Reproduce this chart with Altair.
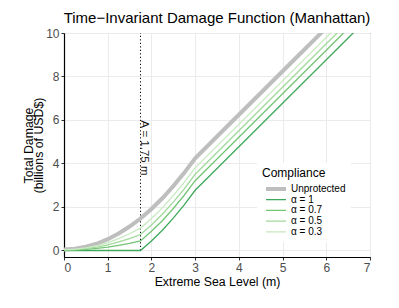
import altair as alt
import pandas as pd

# ---- data ----
x_vals = [0, 0.25, 0.5, 0.75, 1.0, 1.25, 1.5, 1.75, 2.0, 2.25, 2.5, 2.75, 3.0,
          3.5, 4.0, 4.5, 5.0, 5.5, 6.0, 6.5, 7.0]
unprotected = [0.05, 0.08, 0.17, 0.31, 0.52, 0.78, 1.10, 1.47, 1.91, 2.40, 2.96, 3.57, 4.24,
               5.24, 6.24, 7.24, 8.24, 9.24, 10.24, 11.24, 12.24]
alpha_1 = [0, 0, 0, 0, 0, 0, 0, 0, 0.44, 0.93, 1.49, 2.10, 2.77,
           3.77, 4.77, 5.77, 6.77, 7.77, 8.77, 9.77, 10.77]
alpha_07 = [0.015, 0.024, 0.051, 0.093, 0.156, 0.234, 0.33, 0.441, 0.88, 1.37, 1.93, 2.54, 3.21,
            4.21, 5.21, 6.21, 7.21, 8.21, 9.21, 10.21, 11.21]
alpha_05 = [0.025, 0.04, 0.085, 0.155, 0.26, 0.39, 0.55, 0.735, 1.175, 1.665, 2.225, 2.835, 3.505,
            4.505, 5.505, 6.505, 7.505, 8.505, 9.505, 10.505, 11.505]
alpha_03 = [0.035, 0.056, 0.119, 0.217, 0.364, 0.546, 0.77, 1.029, 1.469, 1.959, 2.519, 3.129, 3.799,
            4.799, 5.799, 6.799, 7.799, 8.799, 9.799, 10.799, 11.799]

series_names = ["Unprotected", "α = 1", "α = 0.7", "α = 0.5", "α = 0.3"]
series_values = [unprotected, alpha_1, alpha_07, alpha_05, alpha_03]
colors = ["#bebebe", "#3fa95b", "#74c476", "#a1d99b", "#c7e9c0"]
widths = [4, 1.3, 1.3, 1.3, 1.3]

threshold_x = [1.75]
threshold_label = ["A = 1.75 m"]

x_ticks = [i * 0.5 for i in range(15)]
y_ticks = list(range(11))

rows = []
for k, (name, vals) in enumerate(zip(series_names, series_values)):
    for xv, yv in zip(x_vals, vals):
        rows.append({"x": xv, "y": yv, "series": name, "k": k})
df = pd.DataFrame(rows)

rule_df = pd.DataFrame({"x": threshold_x, "y": [0], "y2": [10]})
text_df = pd.DataFrame({"x": [1.84], "y": [4.72], "label": threshold_label})

xscale = alt.Scale(domain=[0, 7], nice=False, zero=False)
yscale = alt.Scale(domain=[-0.3, 10], nice=False, zero=False)

xaxis = alt.Axis(values=x_ticks, labelExpr="datum.value % 1 == 0 ? datum.label : ''",
                 title="Extreme Sea Level (m)")
yaxis = alt.Axis(values=y_ticks, labelExpr="datum.value % 2 == 0 ? datum.label : ''",
                 title=["Total Damage", "(billions of USD$)"])

lines = alt.Chart(df).mark_line(clip=True).encode(
    x=alt.X("x:Q", scale=xscale, axis=xaxis),
    y=alt.Y("y:Q", scale=yscale, axis=yaxis),
    color=alt.Color("series:N", scale=alt.Scale(domain=series_names, range=colors),
                    title="Compliance"),
    strokeWidth=alt.StrokeWidth("series:N",
                                scale=alt.Scale(type="ordinal", domain=series_names, range=widths),
                                title="Compliance"),
    order=alt.Order("k:Q"),
    detail="series:N",
)

rule = alt.Chart(rule_df).mark_rule(color="black", strokeDash=[1.2, 2.3], strokeWidth=1).encode(
    x="x:Q", y="y:Q", y2="y2:Q"
)

text = alt.Chart(text_df).mark_text(angle=90, align="center", baseline="middle",
                                    fontSize=11.5, color="#1a1a1a").encode(
    x="x:Q", y="y:Q", text="label:N"
)

chart = alt.layer(rule, lines, text).properties(
    width=306, height=224,
    title="Time\u2212Invariant Damage Function (Manhattan)",
    autosize=alt.AutoSizeParams(type="none"),
    padding={"left": 56, "top": 25, "right": 21, "bottom": 43},
).configure(
    font="Liberation Sans",
).configure_view(
    stroke="#333333", strokeWidth=1,
).configure_axis(
    gridColor="#ebebeb", gridWidth=1,
    domainColor="#000000", domainWidth=1.2,
    tickColor="#333333", tickSize=3,
    labelColor="#4d4d4d", labelFontSize=12,
    titleColor="black", titleFontSize=12.3, titleFontWeight="normal",
).configure_axisX(
    labelPadding=2, titlePadding=2,
).configure_axisY(
    labelPadding=2, titlePadding=0, titleLineHeight=10.5,
).configure_title(
    fontSize=15, fontWeight="normal", anchor="middle", offset=1, color="black",
).configure_legend(
    orient="none", legendX=193, legendY=130, fillColor="white", padding=5,
    titleFontSize=12, titleFontWeight="normal", titleColor="black", titlePadding=4,
    labelFontSize=10, labelColor="black", labelOffset=3,
    symbolSize=400, symbolOffset=2, clipHeight=10, rowPadding=0.7,
)

chart.save("out.html", embed_options={"renderer": "svg", "actions": False})
